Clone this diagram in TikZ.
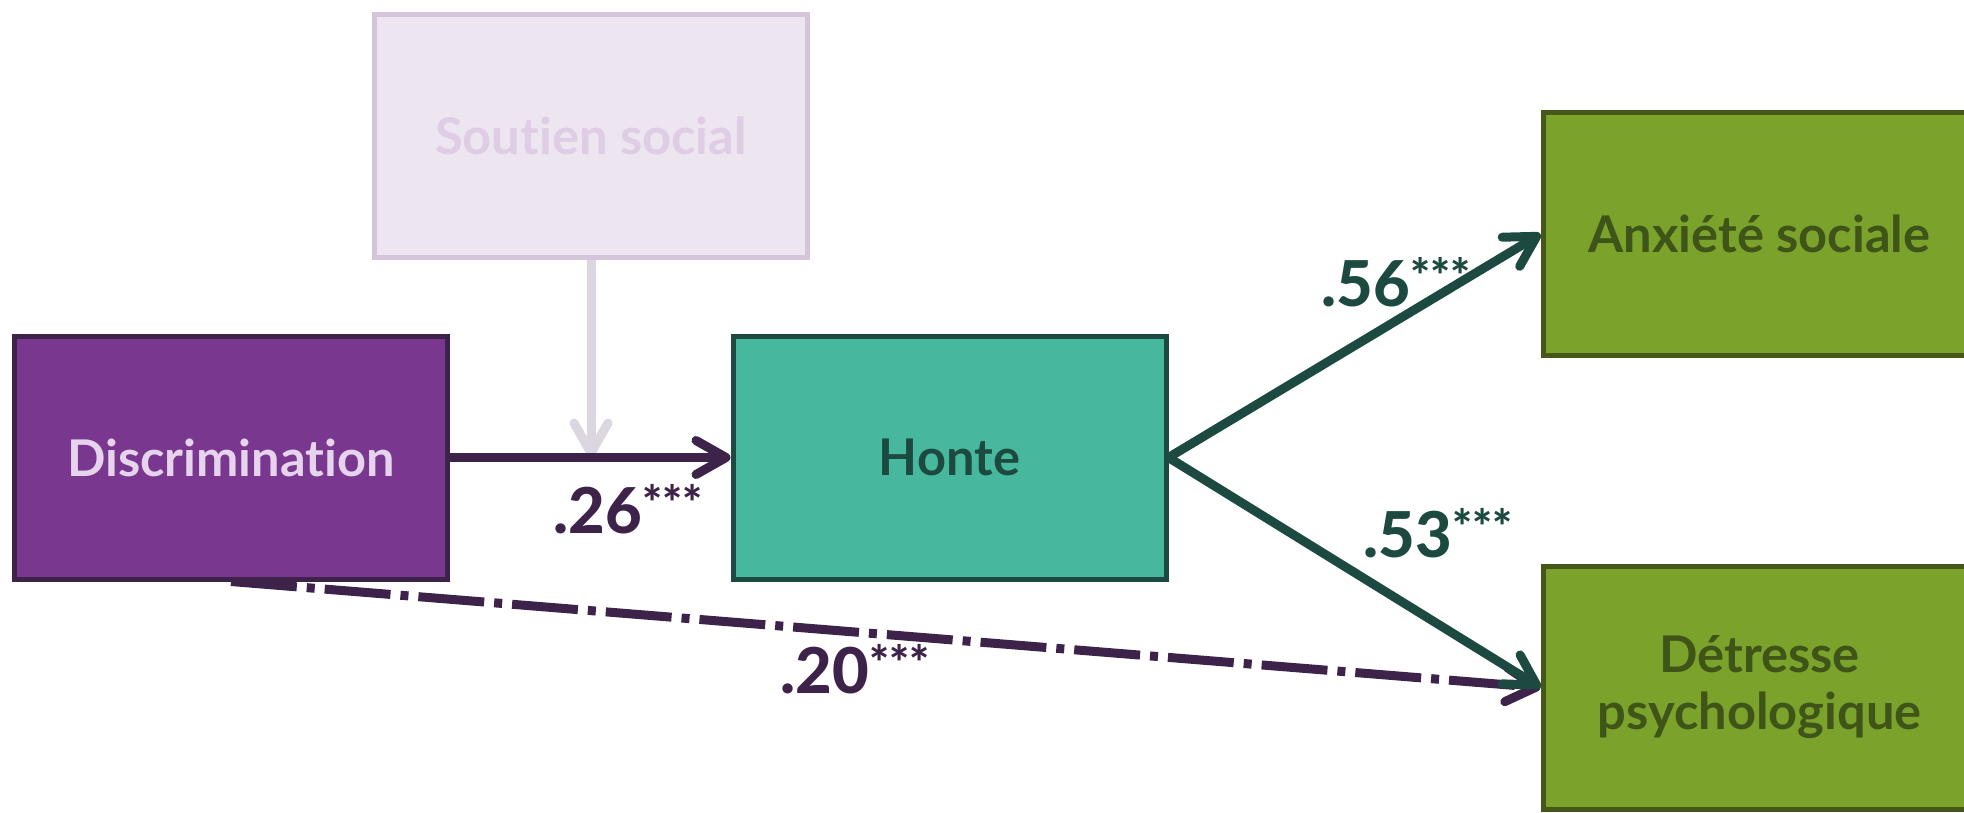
\documentclass[tikz,border=0pt]{standalone}
\usepackage{fontspec}
\setmainfont{Lato}[Ligatures=NoCommon]
\newfontfamily\heavyfont{Lato}[UprightFont=* Heavy, Ligatures=NoCommon]
\usetikzlibrary{arrows.meta}

\definecolor{soutienfill}{RGB}{237,229,239}
\definecolor{soutienline}{RGB}{212,197,218}
\definecolor{soutientext}{RGB}{223,204,229}
\definecolor{soutienarrow}{RGB}{220,214,224}
\definecolor{discfill}{RGB}{122,55,143}
\definecolor{disctext}{RGB}{230,212,236}
\definecolor{purpleline}{RGB}{61,34,73}
\definecolor{hontefill}{RGB}{71,184,158}
\definecolor{greenline}{RGB}{29,74,64}
\definecolor{outfill}{RGB}{123,162,42}
\definecolor{outborder}{RGB}{69,88,26}
\definecolor{outtext}{RGB}{62,84,24}

\newcommand{\sigstars}{\raisebox{3.6pt}{\fontsize{13.5}{13.5}\selectfont ***}}

\tikzset{
  box/.style={draw, line width=0.5mm, minimum width=43.3mm, minimum height=24.3mm,
    inner sep=0pt, align=center, font=\bfseries\fontsize{14.4}{16.2}\selectfont},
  link/.style={line width=0.9mm,
    -{Straight Barb[length=3mm, width=3.4mm, line cap=round, line join=round]}},
  coef/.style={anchor=base west, inner sep=0pt, font=\heavyfont\fontsize{18}{18}\selectfont}
}

\begin{document}
\begin{tikzpicture}[x=0.1mm, y=-0.1mm]
\useasboundingbox (0,0) rectangle (1964,812);
\node [box, fill=soutienfill, draw=soutienline, text=soutientext] (soutien) at (591,136) {Soutien social};
\node [box, fill=discfill, draw=purpleline, text=disctext] (disc) at (231,457.5) {Discrimination};
\node [box, fill=hontefill, draw=greenline, text=greenline] (honte) at (949.5,457.5) {Honte};
\node [box, fill=outfill, draw=outborder, text=outtext] (anx) at (1759.5,234) {Anxiété sociale};
\node [box, fill=outfill, draw=outborder, text=outtext] (det) at (1759.5,687.5) {Détresse\\psychologique};

\coordinate (mod) at (soutien.south |- disc.east);
\draw [link, soutienarrow] (soutien.south) -- (mod);
\draw [link, purpleline] (disc.east) -- (honte.west);
\draw [link, purpleline, dash pattern=on 6.6mm off 1mm on 0.8mm off 1mm] (disc.south) -- (det.west);
\draw [link, greenline] (honte.east) -- (anx.west);
\draw [link, greenline] (honte.east) -- (det.west);

\node [coef, text=purpleline] (b26) at (553,533) {.26\sigstars};
\node [coef, text=greenline] (b56) at (1321,306) {.56\sigstars};
\node [coef, text=greenline] (b53) at (1363,557) {.53\sigstars};
\node [coef, text=purpleline] (b20) at (780,693) {.20\sigstars};
\end{tikzpicture}
\end{document}
